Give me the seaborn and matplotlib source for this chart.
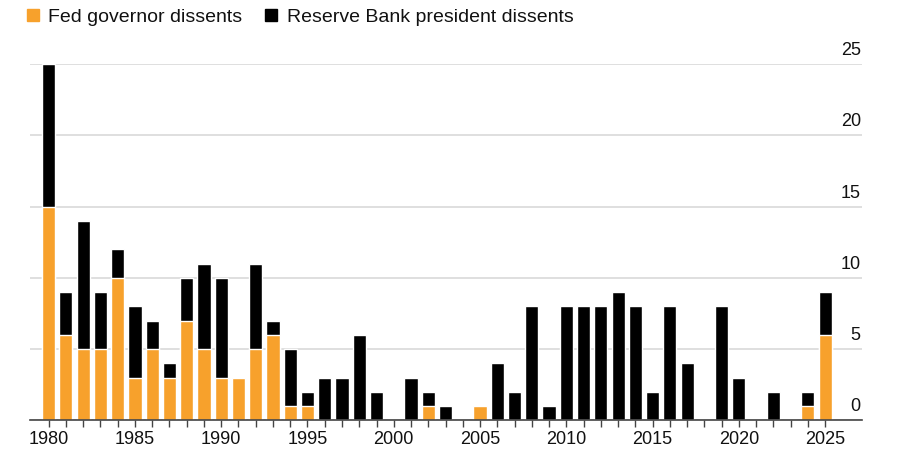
import numpy as np
import pandas as pd
import seaborn as sns
import matplotlib.pyplot as plt
import matplotlib.transforms as mtransforms
from matplotlib.lines import Line2D

years = list(range(1980, 2026))
governor = [15, 6, 5, 5, 10, 3, 5, 3, 7, 5, 3, 3, 5, 6, 1, 1, 0, 0, 0, 0,
            0, 0, 1, 0, 0, 1, 0, 0, 0, 0, 0, 0, 0, 0, 0, 0, 0, 0, 0, 0,
            0, 0, 0, 0, 1, 6]
total = [25, 9, 14, 9, 12, 8, 7, 4, 10, 11, 10, 3, 11, 7, 5, 2, 3, 3, 6, 2,
         0, 3, 2, 1, 0, 1, 4, 2, 8, 1, 8, 8, 8, 9, 8, 2, 8, 4, 0, 8,
         3, 0, 2, 0, 2, 9]
yticks = [0, 5, 10, 15, 20, 25]

df = pd.DataFrame({'year': years, 'governor': governor, 'total': total})

orange = '#F7A12C'
text_col = '#111111'
sns.set_style('white')
plt.rcParams['font.family'] = ['Liberation Sans', 'DejaVu Sans']

fig = plt.figure(figsize=(9, 4.67), dpi=100)
ax = fig.add_axes([0.033, 0.1, 0.925, 0.763])

sns.barplot(data=df, x='year', y='total', color='black', width=0.76,
            saturation=1, ax=ax, zorder=3)
sns.barplot(data=df, x='year', y='governor', color=orange, width=0.76,
            saturation=1, ax=ax, zorder=4)

ax.set_xlim(-1.1, 47.15)
ax.set_ylim(0, 25)
ax.set_xlabel('')
ax.set_ylabel('')

for s in ['top', 'left', 'right']:
    ax.spines[s].set_visible(False)
ax.spines['bottom'].set_color('#444444')
ax.spines['bottom'].set_linewidth(1.2)
ax.spines['bottom'].set_zorder(5)

ax.set_xticks(range(len(years)))
ax.set_xticklabels([str(y) if y % 5 == 0 else '' for y in years])
ax.tick_params(axis='x', length=5, width=1, color='#444444', labelsize=13,
               labelcolor=text_col, pad=3, bottom=True)

ax.yaxis.tick_right()
ax.set_yticks(yticks)
ax.set_yticklabels([str(v) for v in yticks])
ax.tick_params(axis='y', length=0, labelsize=13, labelcolor=text_col, pad=-1)
shift = mtransforms.ScaledTranslation(0, 5 / 100, fig.dpi_scale_trans)
for lab in ax.get_yticklabels():
    lab.set_horizontalalignment('right')
    lab.set_verticalalignment('bottom')
    lab.set_transform(lab.get_transform() + shift)
ax.grid(axis='y', color='#d9d9d9', linewidth=1.2, zorder=0)
ax.set_axisbelow(True)

handles = [Line2D([], [], marker='s', linestyle='none', markersize=9,
                  color=orange, label='Fed governor dissents'),
           Line2D([], [], marker='s', linestyle='none', markersize=9,
                  color='black', label='Reserve Bank president dissents')]
leg = fig.legend(handles=handles, loc='upper left', bbox_to_anchor=(0.006, 1.02),
                 ncol=2, frameon=False, fontsize=14, handletextpad=0.3,
                 columnspacing=1.0, handlelength=1)
for t in leg.get_texts():
    t.set_color(text_col)

fig.savefig('out.png', dpi=100)
